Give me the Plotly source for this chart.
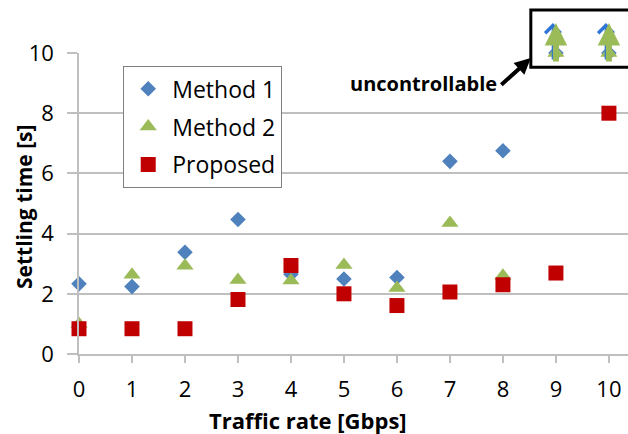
import plotly.graph_objects as go

# ---- data ----
traffic = [0, 1, 2, 3, 4, 5, 6, 7, 8, 9, 10]
method1 = [2.33, 2.24, 3.38, 4.47, 2.65, 2.49, 2.54, 6.40, 6.75, 10, 10]
method2 = [1.0, 2.63, 2.93, 2.46, 2.44, 2.96, 2.19, 4.35, 2.6, 10, 10]
proposed = [0.84, 0.84, 0.84, 1.81, 2.94, 2.0, 1.61, 2.06, 2.30, 2.69, 8.0]
uncontrollable_x = [9, 10]
cap_value = 10
y_ticks = [0, 2, 4, 6, 8, 10]
x_ticks = list(range(0, 11))

BLUE = "#4f81bd"
GREEN = "#9bbb59"
RED = "#c00000"
GRID = "#bfbfbf"
FONT = "Open Sans"

fig = go.Figure()
fig.add_trace(go.Scatter(x=traffic, y=method1, mode="markers", name="Method 1",
                         legendgroup="a",
                         marker=dict(symbol="diamond", size=12, color=BLUE),
                         cliponaxis=False))
fig.add_trace(go.Scatter(x=traffic, y=method2, mode="markers", name="Method 2",
                         legendgroup="b",
                         marker=dict(symbol="triangle-up", size=15, color=GREEN),
                         cliponaxis=False))
fig.add_trace(go.Scatter(x=traffic, y=proposed, mode="markers", name="Proposed",
                         legendgroup="c",
                         marker=dict(symbol="square", size=15, color=RED),
                         cliponaxis=False))

annotations = []
for xv in uncontrollable_x:
    annotations.append(dict(x=xv, y=cap_value, xref="x", yref="y", text="",
                            showarrow=True, ax=0, ay=38, yshift=30, xshift=-3,
                            arrowhead=4, arrowsize=1.2, arrowwidth=2.5,
                            arrowcolor="#2e75d6"))
    annotations.append(dict(x=xv, y=cap_value, xref="x", yref="y", text="",
                            showarrow=True, ax=0, ay=40, yshift=30,
                            arrowhead=2, arrowsize=0.75, arrowwidth=6,
                            arrowcolor=GREEN))

# label + pointer arrow
annotations.append(dict(x=0.627, y=(354 - 83) / 301, xref="paper", yref="paper",
                        xanchor="center", yanchor="middle",
                        text="<b>uncontrollable</b>", showarrow=False,
                        font=dict(family=FONT, size=20, color="#000000")))
annotations.append(dict(x=0.823, y=0.983, xref="paper", yref="paper", text="",
                        showarrow=True, ax=-31, ay=28, arrowhead=2,
                        arrowsize=0.8, arrowwidth=4, arrowcolor="#000000"))
# axis titles
annotations.append(dict(x=(308 - 79) / 549, y=(354 - 420) / 301,
                        xref="paper", yref="paper", xanchor="center",
                        yanchor="middle",
                        text="<b>Traffic rate [Gbps]</b>", showarrow=False,
                        font=dict(family=FONT, size=22, color="#000000")))
annotations.append(dict(x=(24 - 79) / 549, y=(354 - 207) / 301,
                        xref="paper", yref="paper", xanchor="center",
                        yanchor="middle", textangle=-90,
                        text="<b>Settling time [s]</b>", showarrow=False,
                        font=dict(family=FONT, size=21, color="#000000")))

fig.update_layout(
    width=628, height=434,
    margin=dict(l=79, r=0, t=53, b=80),
    paper_bgcolor="white", plot_bgcolor="white",
    font=dict(family=FONT, size=22, color="#000000"),
    showlegend=True,
    legend=dict(x=0.08, y=0.957, xanchor="left", yanchor="top",
                bordercolor="#7f7f7f", borderwidth=1.3, bgcolor="white",
                font=dict(family=FONT, size=23), tracegroupgap=5,
                traceorder="grouped", itemwidth=38),
    xaxis=dict(range=[0, 10.36], tickvals=x_ticks, showgrid=False,
               zeroline=False, showline=True, linecolor=GRID, linewidth=1.5,
               ticks="outside", ticklen=7, tickcolor=GRID, tickwidth=1.5,
               tickfont=dict(size=22), ticklabelstandoff=8),
    yaxis=dict(range=[0, 10], tickvals=y_ticks, showgrid=True, gridcolor=GRID,
               gridwidth=1.5, zeroline=False, showline=True, linecolor=GRID,
               linewidth=1.5, ticks="outside", ticklen=10, tickcolor=GRID,
               tickwidth=1.5, tickfont=dict(size=22), ticklabelstandoff=9),
    annotations=annotations,
    shapes=[dict(type="rect", xref="paper", yref="paper",
                 x0=0.823, x1=1.05, y0=0.953, y1=1.143,
                 line=dict(color="#000000", width=3))],
)

fig.write_html("out.html")
